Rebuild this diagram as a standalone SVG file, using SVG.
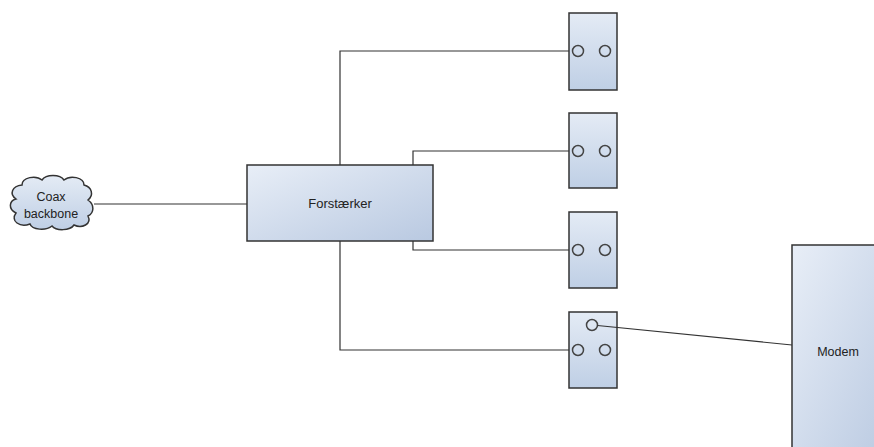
<svg xmlns="http://www.w3.org/2000/svg" width="874" height="447" viewBox="0 0 874 447">
<defs>
<linearGradient id="gH" x1="0" y1="0" x2="1" y2="1">
<stop offset="0" stop-color="#e8eef7"/>
<stop offset="1" stop-color="#b9c9e1"/>
</linearGradient>
<linearGradient id="gV" x1="0" y1="0" x2="0" y2="1">
<stop offset="0" stop-color="#e4ebf5"/>
<stop offset="1" stop-color="#bfcfe5"/>
</linearGradient>
<style>
.box{stroke:#333;stroke-width:1.5}
.hole{fill:none;stroke:#444;stroke-width:1.5}
.wire{fill:none;stroke:#333;stroke-width:1.2}
text{font-family:"Liberation Sans",Arial,sans-serif;font-size:12.5px;fill:#222;text-anchor:middle}
</style>
</defs>
<rect width="874" height="447" fill="#fff"/>
<g id="cloud">
<path class="box" fill="url(#gV)" d="M22,185 C22,177 36,175 42,180 C46,174 60,174 64,180 C70,175 84,177 84,185 C92,187 94,195 88,200 C95,205 94,213 88,216 C92,224 82,229 74,225 C70,231 56,231 52,226 C46,231 32,230 30,224 C20,228 10,221 16,213 C8,209 9,201 16,199 C9,194 12,186 22,185 Z"/>
<text x="51" y="201">Coax</text>
<text x="51" y="218">backbone</text>
</g>
<g id="forstaerker">
<rect class="box" x="247" y="165" width="186" height="76" fill="url(#gH)"/>
<text x="340" y="208" style="font-size:13px">Forstærker</text>
</g>
<g id="outlet1">
<rect class="box" x="569" y="13" width="48" height="77" fill="url(#gV)"/>
<circle class="hole" cx="578" cy="51" r="5.5"/>
<circle class="hole" cx="605" cy="51" r="5.5"/>
</g>
<g id="outlet2">
<rect class="box" x="569" y="113" width="48" height="75" fill="url(#gV)"/>
<circle class="hole" cx="578" cy="151" r="5.5"/>
<circle class="hole" cx="605" cy="151" r="5.5"/>
</g>
<g id="outlet3">
<rect class="box" x="569" y="212" width="48" height="76" fill="url(#gV)"/>
<circle class="hole" cx="578" cy="250" r="5.5"/>
<circle class="hole" cx="605" cy="250" r="5.5"/>
</g>
<g id="outlet4">
<rect class="box" x="569" y="312" width="48" height="76" fill="url(#gV)"/>
<circle class="hole" cx="592" cy="325" r="5.5"/>
<circle class="hole" cx="578" cy="350" r="5.5"/>
<circle class="hole" cx="605" cy="350" r="5.5"/>
</g>
<g id="modem">
<rect class="box" x="792" y="245" width="100" height="220" fill="url(#gH)"/>
<text x="838" y="356">Modem</text>
</g>
<g id="connectors">
<line class="wire" x1="94" y1="204" x2="247" y2="204"/>
<polyline class="wire" points="340,165 340,51 569,51"/>
<polyline class="wire" points="413,165 413,151 569,151"/>
<polyline class="wire" points="413,241 413,250 569,250"/>
<polyline class="wire" points="340,241 340,350 569,350"/>
<line class="wire" x1="597.5" y1="325.5" x2="792" y2="345"/>
</g>
</svg>
